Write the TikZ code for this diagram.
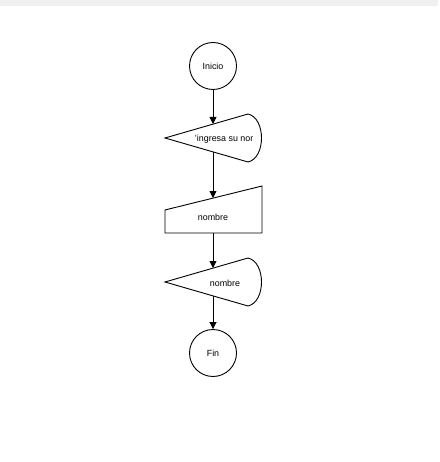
\documentclass[tikz,border=0pt]{standalone}
\usepackage{fontspec}
\setmainfont{Liberation Sans}
\usetikzlibrary{arrows.meta}

\begin{document}
\begin{tikzpicture}[x=1pt, y=-1pt, line width=0.9pt,
		terminal/.style={draw, circle, minimum size=47pt, inner sep=0pt},
		flow/.style={-{Triangle[width=7pt,length=7pt]}},
		every node/.style={font=\fontsize{8.9}{11}\selectfont}]
		\useasboundingbox (0,0) rectangle (439,462);
		\fill[black!6] (0,0) rectangle (438,6);

		% nodes
		\node[terminal] (inicio) at (213,66) {Inicio};
		\node[terminal] (fin) at (213,353) {Fin};

		\draw (165,138) -- (248,114) .. controls (266,118) and (266,158) .. (248,162) -- cycle;
		\begin{scope}
			\clip (180,120) rectangle (252.5,156);
			\node[anchor=west, inner sep=0pt] (pide) at (194.5,139) {'ingresa su nombre'};
		\end{scope}

		\draw (165,210) -- (262,186) -- (262,233) -- (165,233) -- cycle;
		\node (lee) at (213,217) {nombre};

		\draw (165,282) -- (248,258) .. controls (266,262) and (266,302) .. (248,306) -- cycle;
		\node (muestra) at (225,283) {nombre};

		\coordinate (pidein) at (213,124);
		\coordinate (pideout) at (213,152);
		\coordinate (leein) at (213,198);
		\coordinate (leeout) at (213,233);
		\coordinate (muestrain) at (213,268);
		\coordinate (muestraout) at (213,296);

		% connectors
		\draw[flow] (inicio) to (pidein);
		\draw[flow] (pideout) to (leein);
		\draw[flow] (leeout) to (muestrain);
		\draw[flow] (muestraout) to (fin);
	\end{tikzpicture}
\end{document}
